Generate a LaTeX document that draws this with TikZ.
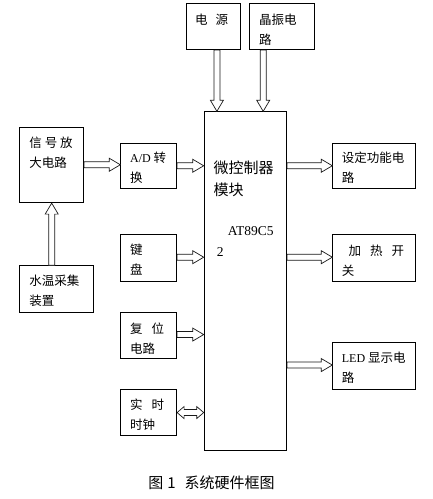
\documentclass[tikz,border=0pt]{standalone}
\usepackage{fontspec}
\setmainfont{Liberation Serif}
\newfontfamily\cjk{Noto Sans CJK SC}
\usepackage{tikz}
\usetikzlibrary{calc,positioning}
\tikzset{
  box/.style={draw, line width=0.8pt, anchor=north west, inner sep=0pt},
  txt/.style={anchor=north west, align=left, inner sep=0pt,
              font=\cjk\fontsize{12.5}{20}\selectfont},
  bigtxt/.style={anchor=north west, align=left, inner sep=0pt,
                 font=\cjk\fontsize{15}{22}\selectfont},
  fatarrow/.style={draw=black!90, line width=0.7pt, fill=white, to path={
    let \p1=(\tikztostart), \p2=(\tikztotarget),
        \n1={atan2(\y2-\y1,\x2-\x1)}, \n2={veclen(\x2-\x1,\y2-\y1)} in
    ($(\p1)+(\n1+90:3pt)$) -- ($(\p1)+(\n1:\n2-11pt)+(\n1+90:3pt)$)
    -- ($(\p1)+(\n1:\n2-11pt)+(\n1+90:6.5pt)$) -- (\p2)
    -- ($(\p1)+(\n1:\n2-11pt)+(\n1-90:6.5pt)$) -- ($(\p1)+(\n1:\n2-11pt)+(\n1-90:3pt)$)
    -- ($(\p1)+(\n1-90:3pt)$) -- cycle}},
  fatarrows/.style={draw=black!90, line width=0.7pt, fill=white, to path={
    let \p1=(\tikztostart), \p2=(\tikztotarget),
        \n1={atan2(\y2-\y1,\x2-\x1)}, \n2={veclen(\x2-\x1,\y2-\y1)} in
    (\p1) -- ($(\p1)+(\n1:7pt)+(\n1+90:6pt)$) -- ($(\p1)+(\n1:7pt)+(\n1+90:3pt)$)
    -- ($(\p1)+(\n1:\n2-7pt)+(\n1+90:3pt)$) -- ($(\p1)+(\n1:\n2-7pt)+(\n1+90:6pt)$)
    -- (\p2)
    -- ($(\p1)+(\n1:\n2-7pt)+(\n1-90:6pt)$) -- ($(\p1)+(\n1:\n2-7pt)+(\n1-90:3pt)$)
    -- ($(\p1)+(\n1:7pt)+(\n1-90:3pt)$) -- ($(\p1)+(\n1:7pt)+(\n1-90:6pt)$)
    -- cycle}}
}
\newcommand{\entxt}[1]{{\rmfamily\fontsize{12}{20}\selectfont #1}}

\begin{document}
\begin{tikzpicture}[x=1pt,y=-1pt]
\useasboundingbox (0,0) rectangle (433,499);
% boxes
\node[box, minimum width=54.6pt, minimum height=46pt] (pwr) at (185.7,3.3) {};
\node[box, minimum width=65pt, minimum height=46pt] (xtal) at (249.3,3.3) {};
\node[box, minimum width=82.6pt, minimum height=338.7pt] (main) at (203.7,111.3) {};
\node[box, minimum width=64pt, minimum height=75.6pt] (sig) at (19.3,126.7) {};
\node[box, minimum width=74pt, minimum height=47pt] (water) at (19.3,265.3) {};
\node[box, minimum width=56pt, minimum height=45.3pt] (ad) at (120.3,142.7) {};
\node[box, minimum width=56pt, minimum height=47pt] (kb) at (120.3,234.3) {};
\node[box, minimum width=56pt, minimum height=45.7pt] (rst) at (120.3,312.3) {};
\node[box, minimum width=56pt, minimum height=45.7pt] (rtc) at (120.3,389.3) {};
\node[box, minimum width=83pt, minimum height=45.3pt] (set) at (332.3,142.7) {};
\node[box, minimum width=83pt, minimum height=47pt] (heat) at (332.3,234.3) {};
\node[box, minimum width=83pt, minimum height=46.7pt] (led) at (332.3,342.3) {};
% texts
\node[txt] (pwrtxt) at (195,14) {电\hspace{8pt}源};
\node[txt] (xtaltxt) at (259,14) {晶振电\\路};
\node[txt] (sigtxt) at (29.3,136.7) {信 号 放\\大电路};
\node[txt] (watertxt) at (29.3,275) {水温采集\\装置};
\node[txt] (adtxt) at (130,152) {\entxt{A/D} 转\\换};
\node[txt] (kbtxt) at (130,244) {键\\盘};
\node[txt] (rsttxt) at (130,322.3) {复\hspace{9pt}位\\电路};
\node[txt] (rtctxt) at (130,399) {实\hspace{9pt}时\\时钟};
\node[txt] (settxt) at (341.7,152) {设定功能电\\路};
\node[txt] (heattxt) at (341.7,244.7) {\hspace*{6.6pt}加\hspace{9pt}热\hspace{9pt}开\\关};
\node[txt] (ledtxt) at (341.7,351.7) {\entxt{LED} 显示电\\路};
\node[bigtxt] (maintxt) at (213.3,160.8) {微控制器\\模块};
\node[anchor=north west, align=left, inner sep=0pt,
      font=\rmfamily\fontsize{13.5}{21}\selectfont] (chip) at (216.7,226) {\hspace*{11pt}AT89C5\\2};
% connectors
\draw[fatarrow] ([xshift=3.5pt]pwr.south) to ([xshift=3.5pt]pwr.south |- main.north);
\draw[fatarrow] ([xshift=-19pt]xtal.south) to ([xshift=-19pt]xtal.south |- main.north);
\draw[fatarrow] (sig.south |- water.north) to (sig.south);
\draw[fatarrow] ([yshift=1pt]sig.east |- ad.west) to ([yshift=1pt]ad.west);
\draw[fatarrow] (ad.east) to (ad.east -| main.west);
\draw[fatarrow] ([yshift=1pt]kb.east) to ([yshift=1pt]kb.east -| main.west);
\draw[fatarrow] ([yshift=1pt]rst.east) to ([yshift=1pt]rst.east -| main.west);
\draw[fatarrows] (rtc.east) to (rtc.east -| main.west);
\draw[fatarrow] (set.west -| main.east) to (set.west);
\draw[fatarrow] ([yshift=1pt]heat.west -| main.east) to ([yshift=1pt]heat.west);
\draw[fatarrow] ([yshift=1pt]led.west -| main.east) to ([yshift=1pt]led.west);
% caption
\node[font=\cjk\fontsize{15}{18}\selectfont] (caption) at (211.5,482.7) {图\hspace{4pt}1\hspace{9pt}系统硬件框图};
\end{tikzpicture}
\end{document}
